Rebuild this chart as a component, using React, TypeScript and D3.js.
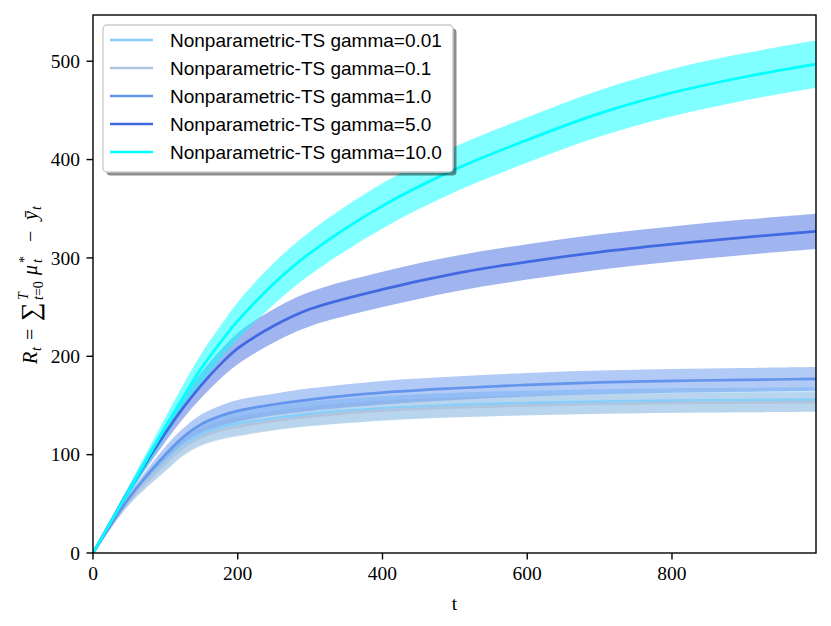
import * as d3 from "d3";

// time steps sampled from the curves
const steps = [0, 50, 100, 125, 150, 175, 200, 250, 300, 400, 500, 600, 700, 800, 900, 999];

const seriesNames = [
  "Nonparametric-TS gamma=0.01",
  "Nonparametric-TS gamma=0.1",
  "Nonparametric-TS gamma=1.0",
  "Nonparametric-TS gamma=5.0",
  "Nonparametric-TS gamma=10.0",
];
const seriesColors = ["#87CEFA", "#B0C4DE", "#6495ED", "#4169E1", "#00FFFF"];

// mean regret per series
const meanG001 = [0, 54, 93, 110, 121, 127.5, 131.5, 137, 141.5, 147, 150.5, 152.5, 154, 155, 155.5, 156];
const meanG01 = [0, 53, 91, 107.5, 118, 124.5, 128.5, 134.5, 139, 145, 148, 150, 151.5, 152.5, 153, 153.5];
const meanG1 = [0, 56, 100, 118, 131, 139, 144.5, 151, 156, 163, 167.5, 171, 173.5, 175, 176, 177];
const meanG5 = [0, 64, 122, 148, 171, 191, 208, 231, 248, 268, 284, 296, 306, 314, 321, 327];
const meanG10 = [0, 64, 128, 159, 188, 213, 236, 274, 305, 353, 390, 420, 447, 468, 484, 497];

// half width of the shaded band
const spreadG001 = [0, 5, 9, 10, 11, 11.5, 12, 12, 12.5, 12.5, 12.5, 12.5, 12.5, 12.5, 12.5, 12.5];
const spreadG01 = [0, 4, 8, 8.5, 9, 9.5, 10, 10, 10, 10, 10, 10, 10, 10, 10, 10];
const spreadG1 = [0, 4, 8, 9, 10, 10.5, 11, 11, 11.5, 12, 12, 12, 12, 12, 12, 12];
const spreadG5 = [0, 4, 9, 11, 13, 14.5, 16, 17, 17.5, 18, 18, 18, 18, 18, 18, 18];
const spreadG10 = [0, 5, 10, 12.5, 15, 17, 19, 21, 22, 23, 23, 23, 23.5, 24, 24, 24];

const means = [meanG001, meanG01, meanG1, meanG5, meanG10];
const spreads = [spreadG001, spreadG01, spreadG1, spreadG5, spreadG10];

const xTicks = [0, 200, 400, 600, 800];
const yTicks = [0, 100, 200, 300, 400, 500];

const width = 831;
const height = 626;
const margin = { top: 15, right: 15, bottom: 73, left: 93 };

export default function App() {
  const x = d3.scaleLinear().domain([0, 999]).range([margin.left, width - margin.right]);
  const y = d3.scaleLinear().domain([0, 547]).range([height - margin.bottom, margin.top]);

  const line = d3
    .line<number>()
    .x((_, i) => x(steps[i]))
    .y((d) => y(d))
    .curve(d3.curveCatmullRom);

  const band = (m: number[], s: number[]) =>
    d3
      .area<number>()
      .x((_, i) => x(steps[i]))
      .y0((_, i) => y(m[i] - s[i]))
      .y1((_, i) => y(m[i] + s[i]))
      .curve(d3.curveCatmullRom)(m) ?? "";

  const serif = "'Liberation Serif', 'DejaVu Serif', serif";
  const sans = "'Liberation Sans', 'DejaVu Sans', sans-serif";
  const tickLen = 6.5;
  const x0 = margin.left;
  const x1 = width - margin.right;
  const y0 = height - margin.bottom;
  const y1 = margin.top;

  const legend = { x: 103, y: 25, w: 350, h: 147, row: 28 };

  return (
    <svg width={width} height={height} style={{ position: "absolute", left: 0, top: 0 }}>
      <rect width={width} height={height} fill="#fff" />
      <defs>
        <clipPath id="plot">
          <rect x={x0} y={y1} width={x1 - x0} height={y0 - y1} />
        </clipPath>
      </defs>

      {/* bands below, lines above */}
      <g clipPath="url(#plot)">
        {means.map((m, i) => (
          <path key={"b" + i} d={band(m, spreads[i])} fill={seriesColors[i]} fillOpacity={0.5} />
        ))}
        {means.map((m, i) => (
          <path key={"l" + i} d={line(m) ?? ""} fill="none" stroke={seriesColors[i]} strokeWidth={2.7} />
        ))}
      </g>

      {/* frame */}
      <rect x={x0} y={y1} width={x1 - x0} height={y0 - y1} fill="none" stroke="#000" strokeWidth={1.4} />

      {/* ticks */}
      <g fontFamily={serif} fontSize={19.5} fill="#000">
        {xTicks.map((t) => (
          <g key={t} transform={`translate(${x(t)},${y0})`}>
            <line y2={tickLen} stroke="#000" strokeWidth={1.4} />
            <text y={27} textAnchor="middle">{t}</text>
          </g>
        ))}
        {yTicks.map((t) => (
          <g key={t} transform={`translate(${x0},${y(t)})`}>
            <line x2={-tickLen} stroke="#000" strokeWidth={1.4} />
            <text x={-13} dy="0.35em" textAnchor="end">{t}</text>
          </g>
        ))}
        <text x={(x0 + x1) / 2} y={610} textAnchor="middle">t</text>
      </g>

      {/* y label */}
      <g transform={`translate(37,${(y0 + y1) / 2}) rotate(-90)`} fontFamily={serif} fill="#000">
        <text x={-80} fontSize={20} fontStyle="italic">R</text>
        <text x={-67} y={4} fontSize={14} fontStyle="italic">t</text>
        <text x={-56} fontSize={20}>=</text>
        <text x={-37} y={2} fontSize={26}>∑</text>
        <text x={-16} y={-9} fontSize={14} fontStyle="italic">T</text>
        <text x={-16} y={6} fontSize={14}>
          <tspan fontStyle="italic">t</tspan>=0
        </text>
        <text x={9} fontSize={20} fontStyle="italic">μ</text>
        <text x={21} y={-8} fontSize={14}>*</text>
        <text x={21} y={5} fontSize={14} fontStyle="italic">t</text>
        <text x={42} fontSize={20}>−</text>
        <text x={64} fontSize={20} fontStyle="italic">ȳ</text>
        <text x={74} y={4} fontSize={14} fontStyle="italic">t</text>
      </g>

      {/* legend */}
      <rect x={legend.x + 3.5} y={legend.y + 3.5} width={legend.w} height={legend.h} rx={4} fill="#000" fillOpacity={0.45} />
      <rect x={legend.x} y={legend.y} width={legend.w} height={legend.h} rx={4} fill="#fff" stroke="#cccccc" strokeWidth={1.4} />
      {seriesNames.map((name, i) => {
        const cy = legend.y + 15 + i * legend.row;
        return (
          <g key={name}>
            <line x1={legend.x + 7} x2={legend.x + 50} y1={cy} y2={cy} stroke={seriesColors[i]} strokeWidth={2.7} />
            <text x={legend.x + 67} y={cy} dy="0.35em" fontFamily={sans} fontSize={19} fill="#000">
              {name}
            </text>
          </g>
        );
      })}
    </svg>
  );
}
